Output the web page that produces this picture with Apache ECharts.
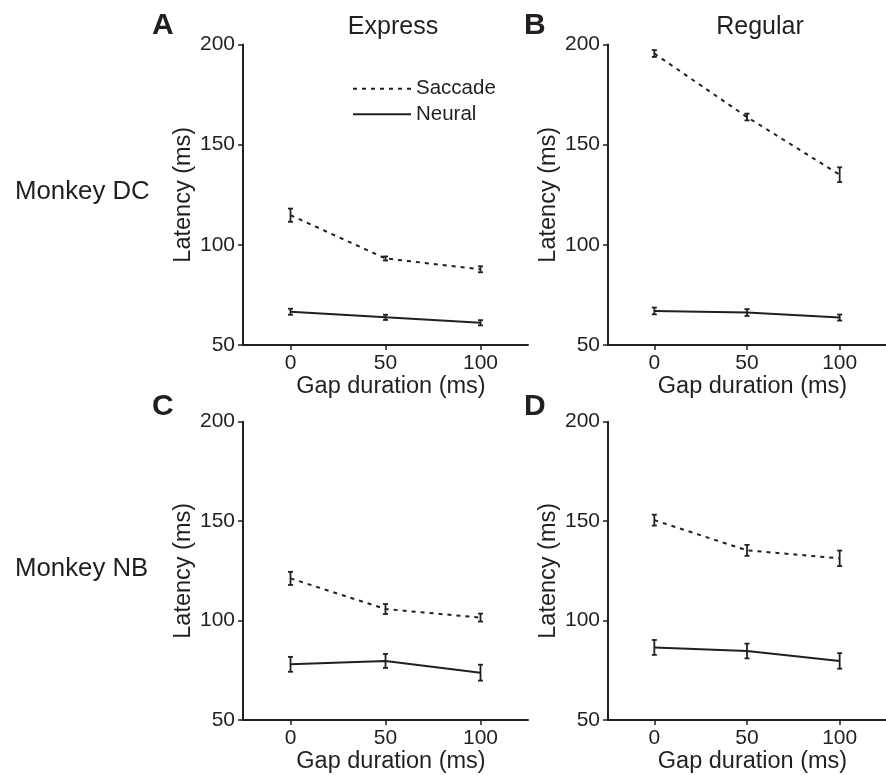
<!DOCTYPE html>
<html>
<head>
<meta charset="utf-8">
<script src="https://cdn.jsdelivr.net/npm/echarts@6/dist/echarts.min.js"></script>
<style>
  html, body { margin: 0; padding: 0; background: #fff; }
  #chart { width: 886px; height: 775px; }
</style>
</head>
<body>
<div id="chart"></div>
<script>
// ---- data ----
var gaps = [0, 50, 100];
var xTicks = [0, 50, 100];
var yTicks = [50, 100, 150, 200];

var A_saccade = [114.8, 93.2, 87.8];
var A_saccadeErr = [3.3, 1.0, 1.5];
var A_neural = [66.6, 63.8, 61.1];
var A_neuralErr = [1.5, 1.3, 1.3];

var B_saccade = [195.5, 163.8, 135.0];
var B_saccadeErr = [1.7, 1.7, 3.7];
var B_neural = [67.0, 66.2, 63.7];
var B_neuralErr = [1.7, 1.7, 1.5];

var C_saccade = [121.2, 105.8, 101.5];
var C_saccadeErr = [3.3, 2.5, 2.0];
var C_neural = [78.0, 79.7, 73.8];
var C_neuralErr = [3.75, 3.5, 4.0];

var D_saccade = [150.5, 135.3, 131.3];
var D_saccadeErr = [2.75, 2.75, 3.9];
var D_neural = [86.5, 84.7, 79.7];
var D_neuralErr = [3.75, 3.7, 3.9];

var colTitles = ['Express', 'Regular'];
var rowTitles = ['Monkey DC', 'Monkey NB'];
var panelLetters = ['A', 'B', 'C', 'D'];
var xTitle = 'Gap duration (ms)';
var yTitle = 'Latency (ms)';
var seriesNames = ['Saccade', 'Neural'];

// ---- layout / style ----
var INK = '#231f20';
var FONT = '"Liberation Sans", Arial, Helvetica, sans-serif';
var panels = [
  { sac: A_saccade, sacErr: A_saccadeErr, neu: A_neural, neuErr: A_neuralErr, grid: { left: 243, top: 44.5, width: 285, height: 300.5 } },
  { sac: B_saccade, sacErr: B_saccadeErr, neu: B_neural, neuErr: B_neuralErr, grid: { left: 608, top: 44.5, width: 285, height: 300.5 } },
  { sac: C_saccade, sacErr: C_saccadeErr, neu: C_neural, neuErr: C_neuralErr, grid: { left: 243, top: 421.7, width: 285, height: 300 } },
  { sac: D_saccade, sacErr: D_saccadeErr, neu: D_neural, neuErr: D_neuralErr, grid: { left: 608, top: 421.7, width: 285, height: 300 } }
];

function pairs(xs, ys) { return xs.map(function (x, i) { return [x, ys[i]]; }); }
function errs(xs, ys, es) { return xs.map(function (x, i) { return [x, ys[i] - es[i], ys[i] + es[i]]; }); }

function renderErr(params, api) {
  var x = api.value(0), lo = api.value(1), hi = api.value(2);
  var p1 = api.coord([x, lo]), p2 = api.coord([x, hi]);
  var w = 2.5;
  var st = { stroke: INK, lineWidth: 1.8 };
  return {
    type: 'group',
    children: [
      { type: 'line', shape: { x1: p1[0], y1: p1[1], x2: p2[0], y2: p2[1] }, style: st },
      { type: 'line', shape: { x1: p1[0] - w, y1: p1[1], x2: p1[0] + w, y2: p1[1] }, style: st },
      { type: 'line', shape: { x1: p2[0] - w, y1: p2[1], x2: p2[0] + w, y2: p2[1] }, style: st }
    ]
  };
}

var grids = [], xAxes = [], yAxes = [], series = [];
panels.forEach(function (p, i) {
  grids.push(Object.assign({ containLabel: false }, p.grid));
  xAxes.push({
    type: 'value', gridIndex: i, min: -25, max: 125,
    name: xTitle, nameLocation: 'middle', nameGap: 30,
    nameTextStyle: { fontFamily: FONT, fontSize: 23.5, color: INK, padding: [0, 0, 0, 11] },
    axisLine: { onZero: false, lineStyle: { color: INK, width: 2 } },
    axisTick: { show: true, length: 5, lineStyle: { color: INK, width: 1.5 }, customValues: xTicks },
    axisLabel: { fontFamily: FONT, fontSize: 21, color: INK, margin: 8, customValues: xTicks },
    splitLine: { show: false }
  });
  yAxes.push({
    type: 'value', gridIndex: i, min: 50, max: 200, interval: 50,
    name: yTitle, nameLocation: 'middle', nameGap: 47,
    nameTextStyle: { fontFamily: FONT, fontSize: 23.5, color: INK },
    axisLine: { show: true, onZero: false, lineStyle: { color: INK, width: 2 } },
    axisTick: { show: true, length: 5, lineStyle: { color: INK, width: 1.5 } },
    axisLabel: { fontFamily: FONT, fontSize: 21, color: INK, margin: 8 },
    splitLine: { show: false }
  });
  series.push({
    name: seriesNames[0], type: 'line', xAxisIndex: i, yAxisIndex: i,
    data: pairs(gaps, p.sac), symbol: 'none', silent: true, clip: false,
    lineStyle: { color: INK, width: 2, type: [4, 5] }, itemStyle: { color: INK }
  });
  series.push({
    name: seriesNames[1], type: 'line', xAxisIndex: i, yAxisIndex: i,
    data: pairs(gaps, p.neu), symbol: 'none', silent: true, clip: false,
    lineStyle: { color: INK, width: 2, type: 'solid' }, itemStyle: { color: INK }
  });
  series.push({
    name: 'errS' + i, type: 'custom', xAxisIndex: i, yAxisIndex: i,
    data: errs(gaps, p.sac, p.sacErr), renderItem: renderErr, encode: { x: 0, y: [1, 2] }, z: 5, silent: true
  });
  series.push({
    name: 'errN' + i, type: 'custom', xAxisIndex: i, yAxisIndex: i,
    data: errs(gaps, p.neu, p.neuErr), renderItem: renderErr, encode: { x: 0, y: [1, 2] }, z: 5, silent: true
  });
});

function txt(s, x, y, size, weight, align) {
  return {
    type: 'text', x: x, y: y,
    style: { text: s, fontFamily: FONT, fontSize: size, fontWeight: weight || 'normal', fill: INK,
             align: align || 'center', verticalAlign: 'middle' }
  };
}

var graphics = [
  txt(colTitles[0], 393, 27, 25),
  txt(colTitles[1], 760, 27, 25),
  txt(rowTitles[0], 15, 192, 25.8, 'normal', 'left'),
  txt(rowTitles[1], 15, 569, 25.8, 'normal', 'left'),
  txt(panelLetters[0], 152, 26, 30, 'bold', 'left'),
  txt(panelLetters[1], 524, 26, 30, 'bold', 'left'),
  txt(panelLetters[2], 152, 407, 30, 'bold', 'left'),
  txt(panelLetters[3], 524, 407, 30, 'bold', 'left')
];

var chart = echarts.init(document.getElementById('chart'), null, { renderer: 'canvas' });
chart.setOption({
  animation: false,
  backgroundColor: '#ffffff',
  grid: grids,
  xAxis: xAxes,
  yAxis: yAxes,
  legend: {
    data: seriesNames, orient: 'vertical', left: 352, top: 78.3, padding: 0,
    itemWidth: 58, itemHeight: 14, itemGap: 4.4,
    itemStyle: { opacity: 0 },
    textStyle: { fontFamily: FONT, fontSize: 20.5, color: INK },
    selectedMode: false
  },
  series: series,
  graphic: graphics
});
</script>
</body>
</html>
